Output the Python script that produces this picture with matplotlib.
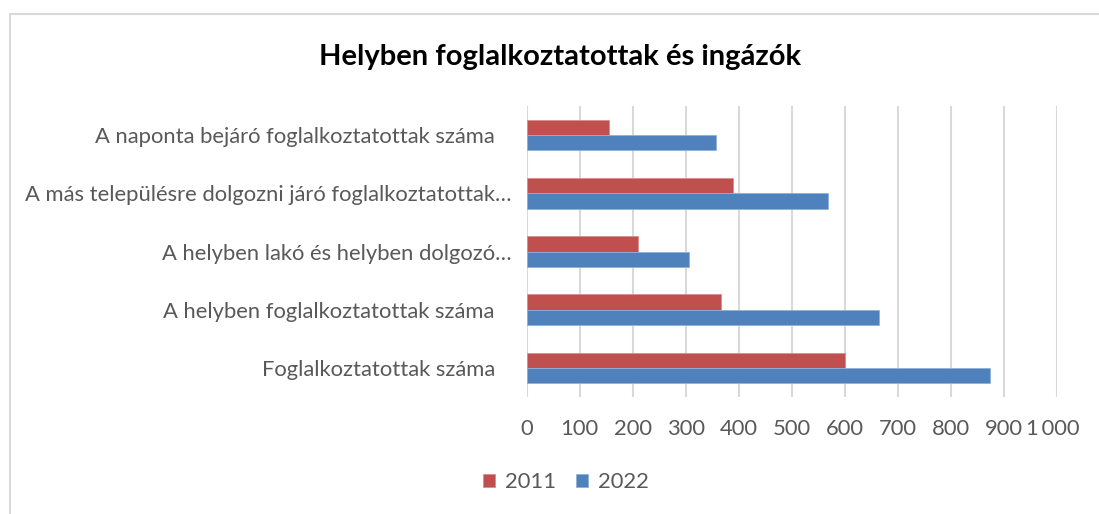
import matplotlib
matplotlib.use("Agg")
import matplotlib.pyplot as plt
import numpy as np
from matplotlib.patches import Rectangle
from matplotlib.transforms import ScaledTranslation

# Categories listed bottom to top, as barh draws them
categories = [
    "Foglalkoztatottak száma   ",
    "A helyben foglalkoztatottak száma   ",
    "A helyben lakó és helyben dolgozó…",
    "A más településre dolgozni járó foglalkoztatottak…",
    "A naponta bejáró foglalkoztatottak száma   ",
]
values_2011 = [600, 366, 211, 389, 155]
values_2022 = [874, 665, 306, 568, 358]
series_labels = ["2011", "2022"]
xticks = [0, 100, 200, 300, 400, 500, 600, 700, 800, 900, 1000]
xtick_labels = ["0", "100", "200", "300", "400", "500", "600", "700", "800", "900", "1\u2009000"]

RED = "#c0504d"
BLUE = "#4f81bd"
TEXT = "#595959"
GRID = "#d9d9d9"
FS = 15.8

plt.rcParams["font.family"] = ["Lato", "DejaVu Sans"]

fig = plt.figure(figsize=(10.99, 5.14), dpi=100)
ax = fig.add_axes([0.4792, 0.2276, 0.4823, 0.5662])

y = np.arange(len(categories))
h = 0.264
ax.barh(y + h / 2, values_2011, height=h, color=RED, edgecolor="#d98c8a", linewidth=0.6,
        label=series_labels[0], zorder=3)
ax.barh(y - h / 2, values_2022, height=h, color=BLUE, edgecolor="#8fb0d8", linewidth=0.6,
        label=series_labels[1], zorder=3)

ax.set_xlim(0, 1000)
ax.set_ylim(-0.5, len(categories) - 0.5)
ax.set_xticks(xticks)
ax.set_xticklabels(xtick_labels, fontsize=FS, color=TEXT)
ax.set_yticks(y)
ax.set_yticklabels(categories, fontsize=FS, color=TEXT)
ax.tick_params(axis="both", length=0)
ax.tick_params(axis="x", pad=16)
ax.tick_params(axis="y", pad=10.8)
# the last value label sits a little inside the plot edge
last = ax.get_xticklabels()[-1]
last.set_transform(last.get_transform() + ScaledTranslation(-0.04, 0, fig.dpi_scale_trans))
ax.xaxis.grid(True, color=GRID, linewidth=1.5, zorder=0)
ax.set_axisbelow(True)
for side in ax.spines.values():
    side.set_visible(False)

fig.text(0.51, 0.889, "Helyben foglalkoztatottak és ingázók", ha="center", va="center",
         fontsize=21, fontweight="bold", color="black")

leg = fig.legend(loc="center", bbox_to_anchor=(0.515, 0.062), ncol=2, frameon=False,
                 fontsize=FS, handlelength=0.55, handleheight=0.55, columnspacing=0.9,
                 handletextpad=0.45)
for t in leg.get_texts():
    t.set_color(TEXT)

# light chart frame along the top and left edges
fig.patches.append(Rectangle((10 / 1099, -0.1), 1.2, 1 - 13.5 / 514 + 0.1,
                             transform=fig.transFigure, fill=False,
                             edgecolor=GRID, linewidth=1.5))

fig.savefig("out.png", dpi=100)
